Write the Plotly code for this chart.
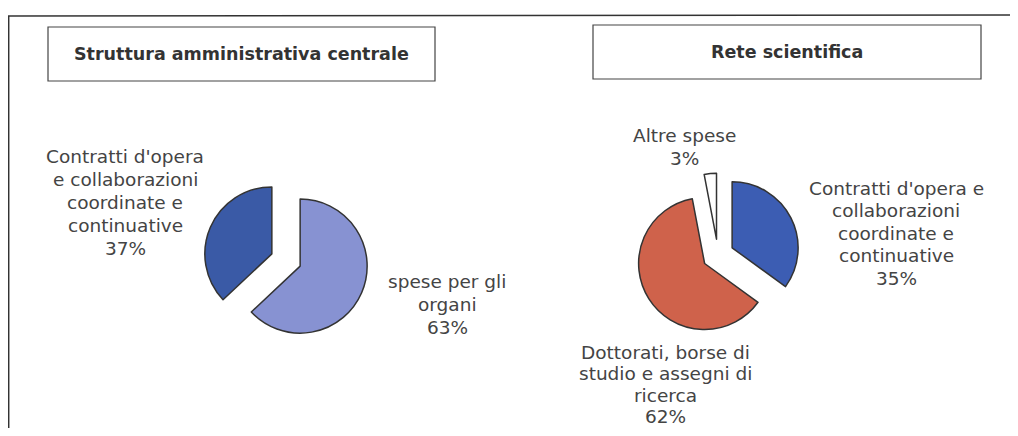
import plotly.graph_objects as go

# page body has an 8px margin: figure is drawn 8px in from the window's corner
OFF = 8
W, H = 1018 - 2 * OFF, 436 - 2 * OFF

# ---- data ----
left_title = "Struttura amministrativa centrale"
left_labels = ["spese per gli\norgani", "Contratti d'opera\ne collaborazioni\ncoordinate e\ncontinuative"]
left_values = [63, 37]
left_colors = ["#8792d2", "#3a5aa6"]

right_title = "Rete scientifica"
right_labels = ["Contratti d'opera e\ncollaborazioni\ncoordinate e\ncontinuative",
                "Dottorati, borse di\nstudio e assegni di\nricerca",
                "Altre spese"]
right_values = [35, 62, 3]
right_colors = ["#3c5db3", "#cf624b", "#ffffff"]

FONT = "DejaVu Sans, Verdana, sans-serif"
TXT = "#444444"
LSIZE = 18.5


def px(x):
    return (x - OFF) / W


def py(y):
    return 1 - (y - OFF) / H


def domain(cx, cy, r, pull):
    half = r * (1 + pull)
    return dict(x=[px(cx - half), px(cx + half)], y=[py(cy + half), py(cy - half)])


fig = go.Figure()

LP = 0.23
fig.add_trace(go.Pie(
    values=left_values, labels=[l.replace("\n", " ") for l in left_labels],
    marker=dict(colors=left_colors, line=dict(color="#333333", width=1.5)),
    pull=[LP, LP], sort=False, direction="clockwise", rotation=0,
    textinfo="none", hoverinfo="label+percent", showlegend=False,
    domain=domain(286, 260, 67, LP),
))

RP = 0.24
fig.add_trace(go.Pie(
    values=right_values, labels=[l.replace("\n", " ") for l in right_labels],
    marker=dict(colors=right_colors, line=dict(color="#333333", width=1.5)),
    pull=[RP, RP, RP], sort=False, direction="clockwise", rotation=0,
    textinfo="none", hoverinfo="label+percent", showlegend=False,
    domain=domain(718, 255, 66, RP),
))

annotations = []


def add_label(text, value, x, y0, step=23):
    lines = text.split("\n") + [f"{value}%"]
    for i, ln in enumerate(lines):
        annotations.append(dict(
            text=ln, x=px(x), y=py(y0 + i * step), xref="paper", yref="paper",
            xanchor="center", yanchor="middle", showarrow=False,
            font=dict(family=FONT, size=LSIZE, color=TXT),
        ))


# label anchor positions (pixels in the reference picture)
add_label(left_labels[0], left_values[0], 447, 281)
add_label(left_labels[1], left_values[1], 125, 156)
add_label(right_labels[0], right_values[0], 896, 188, 22.5)
add_label(right_labels[1], right_values[1], 665, 352, 21.5)
add_label(right_labels[2], right_values[2], 684, 135)

# titles
annotations.append(dict(text=f"<b>{left_title}</b>", x=px(241.5), y=py(54), xref="paper", yref="paper",
                        xanchor="center", yanchor="middle", showarrow=False,
                        font=dict(family=FONT, size=17.5, color="#333333")))
annotations.append(dict(text=f"<b>{right_title}</b>", x=px(787), y=py(52), xref="paper", yref="paper",
                        xanchor="center", yanchor="middle", showarrow=False,
                        font=dict(family=FONT, size=17.5, color="#333333")))

shapes = [
    # outer frame (top and left lines)
    dict(type="line", xref="paper", yref="paper", x0=px(8), y0=py(16), x1=px(1018), y1=py(15),
         line=dict(color="#333333", width=1.5)),
    dict(type="line", xref="paper", yref="paper", x0=px(8.7), y0=py(16), x1=px(8.7), y1=py(436),
         line=dict(color="#333333", width=1.5)),
    # title boxes
    dict(type="rect", xref="paper", yref="paper", x0=px(48), y0=py(27), x1=px(435), y1=py(81),
         line=dict(color="#444444", width=1.2)),
    dict(type="rect", xref="paper", yref="paper", x0=px(593), y0=py(25), x1=px(981), y1=py(79),
         line=dict(color="#444444", width=1.2)),
]

fig.update_layout(
    width=W, height=H, margin=dict(l=0, r=0, t=0, b=0),
    paper_bgcolor="white", plot_bgcolor="white",
    annotations=annotations, shapes=shapes,
)

fig.write_html("out.html")
